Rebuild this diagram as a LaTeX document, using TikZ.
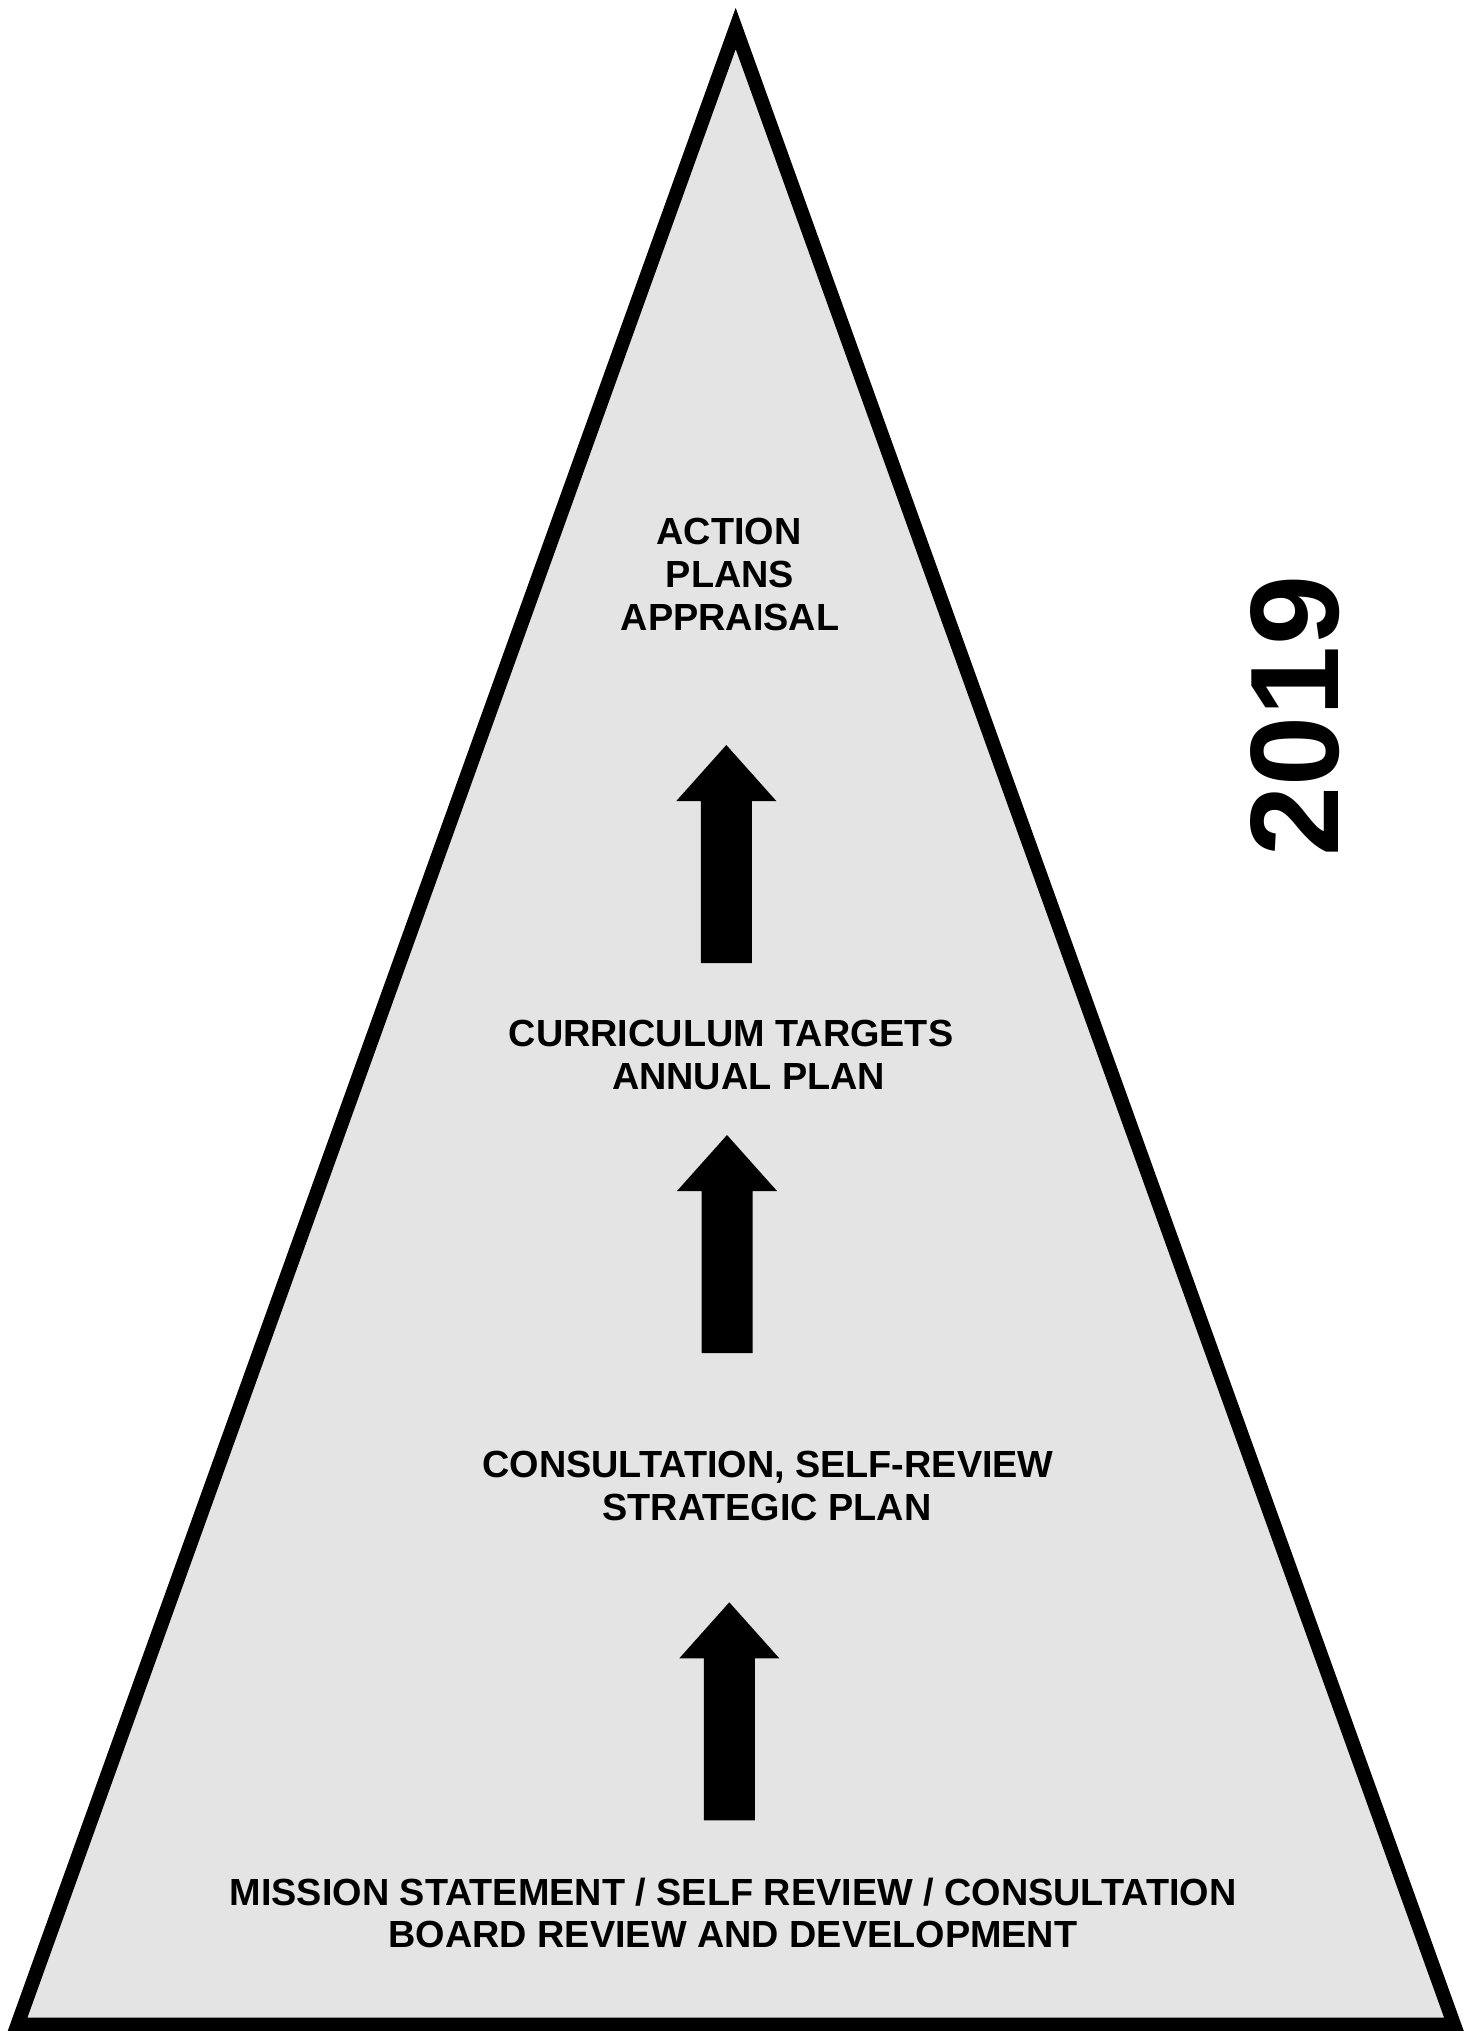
\documentclass[tikz,border=0pt]{standalone}
\usepackage{fontspec}
\setmainfont{Liberation Sans}
\definecolor{pyrfill}{RGB}{228,228,228}
\begin{document}
\begin{tikzpicture}[x=1pt,y=-1pt,
  lbl/.style={anchor=base,inner sep=0pt,font=\bfseries\fontsize{37.8}{43}\selectfont},
  uparr/.pic={\fill[black] (0,0) -- (50,56) -- (25.5,56) -- (25.5,218) -- (-25.5,218) -- (-25.5,56) -- (-50,56) -- cycle;}]
\useasboundingbox (0,0) rectangle (1478,2031);
\coordinate (apex) at (735.7,28.5);
\coordinate (bl) at (17.5,2024.5);
\coordinate (br) at (1454,2024.5);
\filldraw[fill=pyrfill,draw=black,line width=14pt,line join=miter] (apex) -- (br) -- (bl) -- cycle;

\node[lbl] (l1a) at (729,544.3) {ACTION};
\node[lbl] (l1b) at (730,587) {PLANS};
\node[lbl] (l1c) at (730,630) {APPRAISAL};

\node[lbl] (l2a) at (731,1046.7) {CURRICULUM TARGETS};
\node[lbl] (l2b) at (748.5,1089) {ANNUAL PLAN};

\node[lbl] (l3a) at (768,1477) {CONSULTATION, SELF-REVIEW};
\node[lbl] (l3b) at (767,1520) {STRATEGIC PLAN};

\node[lbl] (l4a) at (733,1905) {MISSION STATEMENT / SELF REVIEW / CONSULTATION};
\node[lbl] (l4b) at (733,1947.7) {BOARD REVIEW AND DEVELOPMENT};

\pic (a1) at (726.3,745) {uparr};
\pic (a2) at (727,1135) {uparr};
\pic (a3) at (729.3,1602.3) {uparr};

\node[inner sep=0pt,rotate=90,font=\bfseries\fontsize{126}{126}\selectfont] (year) at (1295,716) {2019};
\end{tikzpicture}
\end{document}
